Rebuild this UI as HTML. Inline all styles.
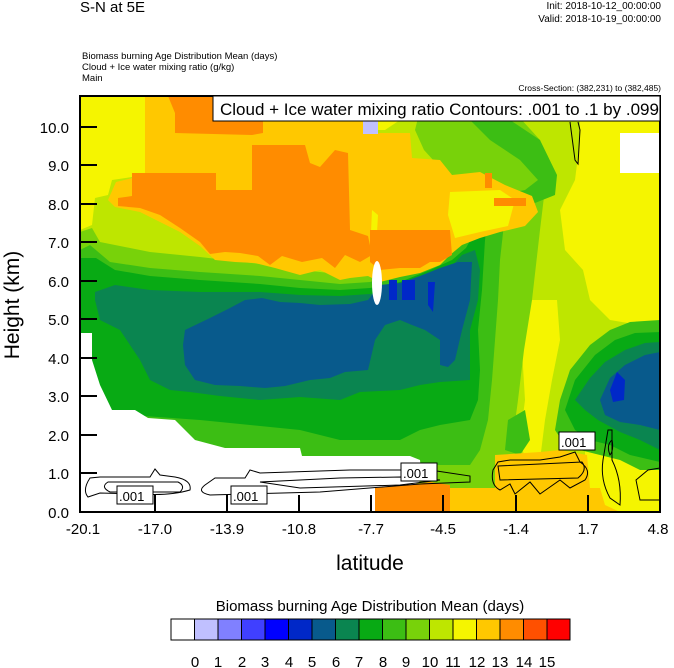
<!DOCTYPE html>
<html><head><meta charset="utf-8"><style>
html,body{margin:0;padding:0;background:#fff;}
svg{display:block;font-family:"Liberation Sans",sans-serif;}
</style></head><body>
<svg width="674" height="668" viewBox="0 0 674 668" xmlns="http://www.w3.org/2000/svg">
<defs><clipPath id="pc"><rect x="80" y="96" width="580" height="416"/></clipPath></defs>
<g clip-path="url(#pc)">
<rect x="80" y="96" width="580" height="416" fill="#bee600"/>
<!-- yellow 12 -->
<polygon fill="#f5f500" points="80,96 145,96 145,175 112,180 108,195 95,198 92,225 80,230"/>
<polygon fill="#f5f500" points="580,96 660,96 660,330 640,325 610,320 590,300 583,270 565,250 560,210 575,180 580,140"/>
<polygon fill="#f5f500" points="530,300 557,300 560,340 552,380 545,420 540,460 528,470 520,440 525,400 522,350"/>
<polygon fill="#f5f500" points="585,430 620,425 660,440 660,512 585,512"/>
<polygon fill="#f5f500" points="375,96 420,96 415,110 400,120 385,130 375,130"/>
<!-- lower nesting greens -->
<polygon fill="#78d20a" points="80,232 92,228 100,242 150,252 200,257 260,264 300,270 340,274 370,272 400,264 430,252 452,246 466,232 472,215 462,196 444,172 424,150 415,130 420,110 430,96 470,96 490,110 520,118 540,140 546,180 540,230 532,300 524,350 518,400 514,430 520,460 516,490 500,500 470,500 450,488 410,480 80,480"/>
<polygon fill="#3cbe14" points="80,250 90,245 110,262 150,268 200,272 260,276 300,280 340,284 370,282 400,274 430,262 455,250 472,236 480,215 478,200 500,195 525,190 538,180 520,160 490,140 470,120 460,96 490,96 510,120 540,140 557,175 555,195 530,205 505,215 500,260 498,300 495,340 492,380 488,420 480,450 470,465 80,465"/>
<polygon fill="#3cbe14" points="508,420 525,410 530,440 520,455 505,450"/>
<polygon fill="#08aa14" points="80,258 96,258 115,270 150,276 200,280 260,284 300,288 340,290 370,288 400,282 430,270 452,260 466,248 475,232 480,225 488,215 485,240 482,290 478,330 480,370 478,400 470,420 440,425 420,430 400,440 340,440 300,430 200,420 130,415 80,410"/>
<polygon fill="#0a8550" points="95,292 115,285 150,290 200,292 260,292 300,295 340,296 370,294 400,288 430,278 450,268 462,255 475,250 480,270 478,300 470,330 470,360 470,380 440,382 420,385 400,390 360,392 340,400 300,397 260,400 220,396 190,392 170,390 150,380 140,360 130,345 120,330 100,320 95,300"/>
<polygon fill="#085a8c" points="185,330 210,318 230,308 245,300 262,298 280,302 300,303 320,305 350,304 368,300 380,285 400,283 420,276 440,268 458,262 472,262 470,300 462,330 455,360 448,367 440,365 440,340 425,330 412,325 400,320 385,325 375,340 368,370 345,372 330,378 310,380 285,386 265,388 240,386 215,385 195,380 185,365 183,345"/>
<polygon fill="#0028c8" points="389,280 397,280 397,300 389,300"/>
<polygon fill="#0028c8" points="402,280 415,280 415,300 402,300"/>
<polygon fill="#0028c8" points="428,282 435,282 433,312 428,305"/>
<!-- right blob -->
<polygon fill="#3cbe14" points="555,430 560,400 570,370 590,345 610,330 630,322 660,320 660,470 640,470 620,460 600,455 580,450 565,445"/>
<polygon fill="#08aa14" points="565,410 575,380 595,355 615,340 635,333 660,332 660,462 630,455 610,445 590,440 575,430"/>
<polygon fill="#0a8550" points="575,400 590,378 605,362 625,350 645,343 660,342 660,450 640,440 620,432 598,420 585,410"/>
<polygon fill="#085a8c" points="600,400 610,378 625,365 645,355 660,352 660,430 640,425 620,422 605,415"/>
<polygon fill="#0028c8" points="610,390 617,372 625,380 624,400 613,402"/>
<!-- upper nesting oranges -->
<polygon fill="#ffc800" points="145,96 375,96 375,133 410,133 412,158 440,160 452,175 480,172 505,185 532,196 538,212 525,226 500,232 480,238 462,245 450,255 440,265 420,273 400,277 380,282 368,276 350,278 340,280 320,270 300,275 275,268 255,263 235,262 215,260 200,246 180,232 160,222 140,212 115,207 108,200 116,182 145,175"/>
<polygon fill="#f5f500" points="450,192 500,190 515,200 508,226 480,232 455,238 448,215"/>
<polygon fill="#f5f500" points="372,210 378,215 376,250 370,255"/>
<polygon fill="#ff8c00" points="168,96 263,96 263,133 252,135 252,145 305,145 310,163 320,167 335,150 348,153 350,230 368,236 372,255 360,262 345,255 335,268 322,258 302,262 282,256 270,265 258,256 240,253 225,252 210,254 200,242 180,228 160,215 140,208 118,206 118,198 132,196 132,173 216,173 216,190 252,190 252,145 252,135 175,133 175,113"/>
<polygon fill="#ff8c00" points="370,230 450,230 452,255 440,262 430,262 420,268 400,268 380,270 370,262"/>
<rect x="485" y="173" width="7" height="15" fill="#ff8c00"/>
<rect x="494" y="198" width="32" height="8" fill="#ff8c00"/>
<rect x="363" y="121" width="15" height="13" fill="#c0c0ff"/>
<rect x="620" y="133" width="40" height="40" fill="#ffffff"/>
<ellipse cx="377" cy="283" rx="5" ry="22" fill="#ffffff"/>
<!-- white bottom-left -->
<polygon fill="#ffffff" points="80,333 92,333 92,360 100,385 112,410 135,410 148,418 175,420 195,440 225,448 300,448 302,456 410,456 420,460 422,480 410,488 375,488 375,512 80,512"/>
<!-- bottom oranges -->
<polygon fill="#ff8c00" points="375,488 410,485 430,482 450,485 450,512 375,512"/>
<polygon fill="#ffc800" points="450,488 600,488 605,505 620,512 450,512"/>
<polygon fill="#ffc800" points="495,455 540,452 560,450 587,455 590,488 495,488"/>
<!-- contours -->
<g fill="none" stroke="#000" stroke-width="1">
<path d="M90,478 Q82,490 88,497 L100,493 L140,494 Q170,496 190,490 Q192,480 175,477 L160,475 L155,469 L150,477 L100,477 Z"/>
<path d="M108,482 Q100,487 110,492 L180,492 Q186,486 178,482 Z"/>
<path d="M205,485 Q196,492 210,495 L320,492 L420,484 L470,482 L470,476 L430,470 L350,470 L260,473 L250,470 L245,478 L215,478 Z"/>
<path d="M260,482 L340,478 L400,477 L440,480 L400,485 L300,488 Z"/>
<path d="M493,470 Q490,485 500,490 L510,484 L515,494 L530,482 L540,494 L560,480 L570,488 L585,480 Q592,470 580,462 L575,452 L560,457 L540,460 L510,460 L498,462 Z"/>
<path d="M498,466 L582,462 Q588,470 578,478 L500,480 Z"/>
<path d="M608,430 L603,460 Q600,480 610,498 L620,505 Q622,480 612,460 L612,430 Z"/>
<path d="M610,455 Q606,445 612,440 Q614,450 610,455 Z"/>
<path d="M636,480 L648,470 L660,468 L660,500 L640,500 Z"/>
<path d="M570,122 L575,160 L578,164 L580,130 L578,122"/>
</g>
<g font-size="13" fill="#000">
<rect x="117" y="486" width="36" height="18" fill="#fff" stroke="#000"/><text x="119" y="501">.001</text>
<rect x="231" y="486" width="36" height="18" fill="#fff" stroke="#000"/><text x="233" y="501">.001</text>
<rect x="401" y="463" width="36" height="18" fill="#fff" stroke="#000"/><text x="403" y="478">.001</text>
<rect x="559" y="432" width="36" height="18" fill="#fff" stroke="#000"/><text x="561" y="447">.001</text>
</g>
</g>
<rect x="80" y="96" width="580" height="416" fill="none" stroke="#000" stroke-width="2"/>
<rect x="213" y="96" width="447" height="25" fill="#fff" stroke="#000" stroke-width="1"/>
<text x="220" y="115" font-size="17">Cloud + Ice water mixing ratio Contours: .001 to .1 by .099</text>
<g stroke="#000" stroke-width="2">
<line x1="80" y1="127" x2="97" y2="127"/><line x1="80" y1="165" x2="97" y2="165"/><line x1="80" y1="204" x2="97" y2="204"/><line x1="80" y1="242" x2="97" y2="242"/><line x1="80" y1="281" x2="97" y2="281"/><line x1="80" y1="319" x2="97" y2="319"/><line x1="80" y1="358" x2="97" y2="358"/><line x1="80" y1="396" x2="97" y2="396"/><line x1="80" y1="435" x2="97" y2="435"/><line x1="80" y1="473" x2="97" y2="473"/>
<line x1="155" y1="512" x2="155" y2="495"/><line x1="227" y1="512" x2="227" y2="495"/><line x1="299" y1="512" x2="299" y2="495"/><line x1="371" y1="512" x2="371" y2="495"/><line x1="443" y1="512" x2="443" y2="495"/><line x1="516" y1="512" x2="516" y2="495"/><line x1="588" y1="512" x2="588" y2="495"/>
</g>
<g font-size="15" text-anchor="end">
<text x="69" y="133">10.0</text><text x="69" y="171">9.0</text><text x="69" y="210">8.0</text><text x="69" y="248">7.0</text><text x="69" y="287">6.0</text><text x="69" y="325">5.0</text><text x="69" y="364">4.0</text><text x="69" y="402">3.0</text><text x="69" y="441">2.0</text><text x="69" y="479">1.0</text><text x="69" y="518">0.0</text>
</g>
<g font-size="15" text-anchor="middle">
<text x="83" y="534">-20.1</text><text x="155" y="534">-17.0</text><text x="227" y="534">-13.9</text><text x="299" y="534">-10.8</text><text x="371" y="534">-7.7</text><text x="443" y="534">-4.5</text><text x="516" y="534">-1.4</text><text x="588" y="534">1.7</text><text x="658" y="534">4.8</text>
</g>
<text x="370" y="570" font-size="21" text-anchor="middle">latitude</text>
<text transform="translate(19,305) rotate(-90)" font-size="21" text-anchor="middle">Height (km)</text>
<text x="80" y="12" font-size="15">S-N at 5E</text>
<text x="661" y="9" font-size="10" text-anchor="end">Init: 2018-10-12_00:00:00</text>
<text x="661" y="22" font-size="10" text-anchor="end">Valid: 2018-10-19_00:00:00</text>
<text x="82" y="59" font-size="9.5">Biomass burning Age Distribution Mean    (days)</text>
<text x="82" y="70" font-size="9.5">Cloud + Ice water mixing ratio    (g/kg)</text>
<text x="82" y="81" font-size="9.5">Main</text>
<text x="661" y="91" font-size="8.5" text-anchor="end">Cross-Section: (382,231) to (382,485)</text>
<text x="370" y="611" font-size="15" text-anchor="middle">Biomass burning Age Distribution Mean  (days)</text>
<g stroke="#000" stroke-width="1">
<rect x="171" y="619" width="23.5" height="21" fill="#ffffff"/>
<rect x="194.5" y="619" width="23.5" height="21" fill="#c0c0ff"/>
<rect x="218" y="619" width="23.5" height="21" fill="#8080ff"/>
<rect x="241.5" y="619" width="23.5" height="21" fill="#4040ff"/>
<rect x="265" y="619" width="23.5" height="21" fill="#0000ff"/>
<rect x="288.5" y="619" width="23.5" height="21" fill="#0028c8"/>
<rect x="312" y="619" width="23.5" height="21" fill="#085a8c"/>
<rect x="335.5" y="619" width="23.5" height="21" fill="#0a8550"/>
<rect x="359" y="619" width="23.5" height="21" fill="#08aa14"/>
<rect x="382.5" y="619" width="23.5" height="21" fill="#3cbe14"/>
<rect x="406" y="619" width="23.5" height="21" fill="#78d20a"/>
<rect x="429.5" y="619" width="23.5" height="21" fill="#bee600"/>
<rect x="453" y="619" width="23.5" height="21" fill="#f5f500"/>
<rect x="476.5" y="619" width="23.5" height="21" fill="#ffc800"/>
<rect x="500" y="619" width="23.5" height="21" fill="#ff8c00"/>
<rect x="523.5" y="619" width="23.5" height="21" fill="#ff5000"/>
<rect x="547" y="619" width="23" height="21" fill="#ff0000"/>
</g>
<g font-size="15" text-anchor="middle">
<text x="195" y="667">0</text><text x="218" y="667">1</text><text x="242" y="667">2</text><text x="265" y="667">3</text><text x="289" y="667">4</text><text x="312" y="667">5</text><text x="336" y="667">6</text><text x="359" y="667">7</text><text x="383" y="667">8</text><text x="406" y="667">9</text><text x="430" y="667">10</text><text x="453" y="667">11</text><text x="477" y="667">12</text><text x="500" y="667">13</text><text x="524" y="667">14</text><text x="547" y="667">15</text>
</g>
</svg>
</body></html>
